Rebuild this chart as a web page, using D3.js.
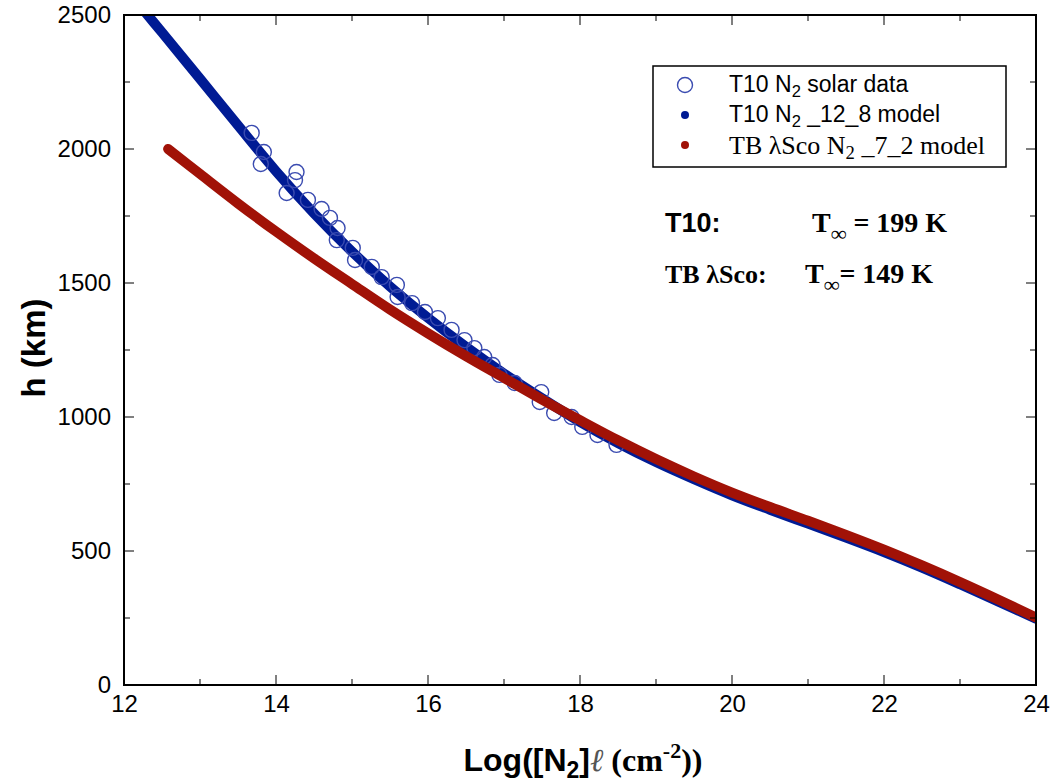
<!DOCTYPE html>
<html><head><meta charset="utf-8">
<script src="https://cdn.jsdelivr.net/npm/d3@7"></script>
<style>body{margin:0;background:#fff;} svg{display:block;}</style>
</head><body>
<svg id="chart" width="1055" height="782"></svg>
<script>
// ---- data ----
const xTicks = [12, 14, 16, 18, 20, 22, 24];
const yTicks = [0, 500, 1000, 1500, 2000, 2500];

// T10 N2 solar data (open circles)
const solarLogN = [13.68,13.84,13.80,14.27,14.25,14.14,14.42,14.60,14.71,14.81,14.80,15.01,15.04,15.26,15.39,15.59,15.60,15.79,15.96,16.13,16.31,16.48,16.61,16.74,16.85,16.94,17.14,17.49,17.47,17.66,17.89,18.03,18.23,18.48];
const solarH    = [2060,1989,1944,1914,1884,1836,1810,1776,1743,1705,1660,1631,1586,1560,1522,1493,1448,1425,1392,1369,1325,1287,1257,1224,1194,1157,1127,1093,1056,1015,1000,963,933,896];

// T10 N2 _12_8 model
const t10LogN = [12.2,12.5,13,13.5,14,14.5,15,15.5,16,16.5,17,17.5,18,18.5,19,19.5,20,20.5,21,21.5,22,22.5,23,23.5,24];
const t10H    = [2538,2435,2262,2088,1917,1760,1617,1487,1370,1262,1162,1070,982,903,832,768,708,654,602,550,496,438,376,312,247];

// TB lambda Sco N2 _7_2 model
const tbLogN = [12.58,13,13.5,14,14.5,15,15.5,16,16.5,17,17.5,18,18.5,19,19.5,20,20.5,21,21.5,22,22.5,23,23.5,24];
const tbH    = [2000,1907,1797,1692,1592,1496,1401,1312,1227,1146,1065,988,913,843,778,718,664,613,560,505,446,384,319,252];

// ---- layout ----
const svg = d3.select("#chart");
const L = 124, R = 1036, T = 15, B = 685;
const x = d3.scaleLinear().domain([12, 24]).range([L, R]);
const y = d3.scaleLinear().domain([0, 2500]).range([B, T]);
const blue = "#001b94", red = "#a11207", circ = "#3a4bb0";
const SANS = "Liberation Sans, Arial, sans-serif", SERIF = "Liberation Serif, Times New Roman, serif";

svg.append("defs").append("clipPath").attr("id","clip")
  .append("rect").attr("x",L).attr("y",T).attr("width",R-L).attr("height",B-T);

const plot = svg.append("g").attr("clip-path","url(#clip)");
const line = d3.line().x(d=>x(d[0])).y(d=>y(d[1])).curve(d3.curveCatmullRom.alpha(0.5));

plot.append("path").datum(d3.zip(t10LogN, t10H)).attr("d", line)
  .attr("fill","none").attr("stroke",blue).attr("stroke-width",10).attr("stroke-linecap","round");

plot.selectAll("circle.sol").data(d3.zip(solarLogN, solarH)).join("circle")
  .attr("class","sol").attr("cx",d=>x(d[0])).attr("cy",d=>y(d[1])).attr("r",7.5)
  .attr("fill","none").attr("stroke",circ).attr("stroke-width",1.4);

plot.append("path").datum(d3.zip(tbLogN, tbH)).attr("d", line)
  .attr("fill","none").attr("stroke",red).attr("stroke-width",10).attr("stroke-linecap","round");

// ---- axes ----
const minorX = d3.range(12, 24.01, 1);
const minorY = d3.range(0, 2500.1, 250);
const tickG = svg.append("g").attr("stroke","#000").attr("stroke-width",1);
minorX.forEach(v=>{
  const len = (v % 2 === 0) ? 10 : 6;
  tickG.append("line").attr("x1",x(v)).attr("x2",x(v)).attr("y1",B).attr("y2",B-len);
  tickG.append("line").attr("x1",x(v)).attr("x2",x(v)).attr("y1",T).attr("y2",T+len);
});
minorY.forEach(v=>{
  const len = (v % 500 === 0) ? 10 : 6;
  tickG.append("line").attr("x1",L).attr("x2",L+len).attr("y1",y(v)).attr("y2",y(v));
  tickG.append("line").attr("x1",R).attr("x2",R-len).attr("y1",y(v)).attr("y2",y(v));
});

svg.append("rect").attr("x",L).attr("y",T).attr("width",R-L).attr("height",B-T)
  .attr("fill","none").attr("stroke","#000").attr("stroke-width",2);

const xAxis = svg.append("g").attr("transform",`translate(0,${B})`)
  .call(d3.axisBottom(x).tickValues(xTicks).tickSize(0).tickPadding(10).tickFormat(d3.format("d")));
xAxis.select(".domain").remove();
xAxis.selectAll("text").attr("font-family",SANS).attr("font-size",24).attr("fill","#000");

const yAxis = svg.append("g").attr("transform",`translate(${L},0)`)
  .call(d3.axisLeft(y).tickValues(yTicks).tickSize(0).tickPadding(13).tickFormat(d3.format("d")));
yAxis.select(".domain").remove();
yAxis.selectAll("text").attr("font-family",SANS).attr("font-size",24).attr("fill","#000");

// axis titles
svg.append("text").attr("transform","translate(45,348) rotate(-90)").attr("text-anchor","middle")
  .attr("font-family",SANS).attr("font-weight","bold").attr("font-size",33)
  .text("h (km)");

const xt = svg.append("text").attr("x",583).attr("y",771).attr("text-anchor","middle")
  .attr("font-family",SANS).attr("font-weight","bold").attr("font-size",32);
xt.append("tspan").text("Log([N");
xt.append("tspan").attr("font-size",23).attr("dy",7).text("2");
xt.append("tspan").attr("dy",-7).text("]");
xt.append("tspan").attr("font-family",SERIF).attr("font-weight","normal").attr("font-style","italic").attr("fill","#555").text("\u2113 ");
xt.append("tspan").attr("font-family",SERIF).text("(cm");
xt.append("tspan").attr("font-family",SERIF).attr("font-size",22).attr("dy",-13).text("-2");
xt.append("tspan").attr("font-family",SERIF).attr("dy",13).text("))");

// ---- legend ----
svg.append("rect").attr("x",653).attr("y",66).attr("width",353).attr("height",101)
  .attr("fill","#fff").attr("stroke","#000").attr("stroke-width",1.5);
svg.append("circle").attr("cx",685).attr("cy",85).attr("r",7.5).attr("fill","none").attr("stroke",circ).attr("stroke-width",1.4);
svg.append("circle").attr("cx",685).attr("cy",115).attr("r",4).attr("fill",blue);
svg.append("circle").attr("cx",685).attr("cy",145).attr("r",4).attr("fill",red);

function legText(xx, yy, parts, family, size){
  const t = svg.append("text").attr("x",xx).attr("y",yy).attr("font-family",family).attr("font-size",size);
  t.append("tspan").text(parts[0]);
  t.append("tspan").attr("font-size",size*0.72).attr("dy",5).text("2");
  t.append("tspan").attr("dy",-5).text(parts[1]);
}
legText(729, 92, ["T10 N"," solar data"], SANS, 23);
legText(729, 122, ["T10 N"," _12_8 model"], SANS, 23);
legText(729, 154, ["TB \u03bbSco N"," _7_2 model"], SERIF, 26);

// ---- annotations ----
svg.append("text").attr("x",665).attr("y",232).attr("font-family",SANS)
  .attr("font-weight","bold").attr("font-size",27).text("T10:");
function tInf(xx, yy, rest){
  const t = svg.append("text").attr("x",xx).attr("y",yy).attr("font-family",SERIF)
    .attr("font-weight","bold").attr("font-size",28);
  t.append("tspan").text("T");
  t.append("tspan").attr("font-size",22).attr("dy",9).text("\u221e");
  t.append("tspan").attr("dy",-9).text(rest);
}
tInf(812, 232, " = 199 K");
svg.append("text").attr("x",665).attr("y",283).attr("font-family",SERIF)
  .attr("font-weight","bold").attr("font-size",26).text("TB \u03bbSco:");
tInf(805, 283, "= 149 K");
</script>
</body></html>
